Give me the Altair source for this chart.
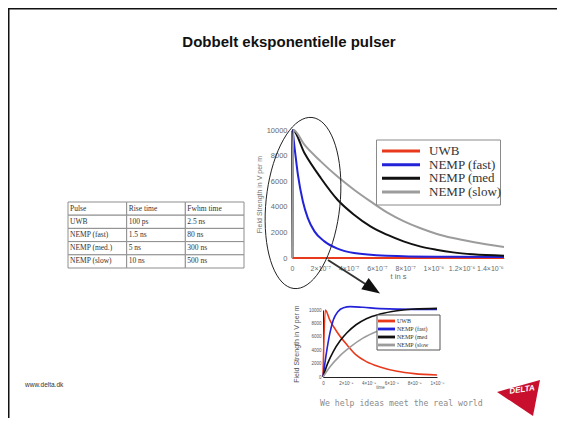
import json
import altair as alt
import numpy as np
import pandas as pd

W, H = 549, 410

# ---------------- texts ----------------
TITLE = "Dobbelt eksponentielle pulser"
URL_TEXT = "www.delta.dk"
SLOGAN = "We help ideas meet the real world"
LOGO_TEXT = "DELTA"

series = ["UWB", "NEMP (fast)", "NEMP (med", "NEMP (slow)"]
inset_labels = ["UWB", "NEMP (fast)", "NEMP (med", "NEMP (slow"]
colors = ["#e8391d", "#2222d8", "#111111", "#9c9c9c"]

# ---------------- table ----------------
table_header = ["Pulse", "Rise time", "Fwhm time"]
table_pulse = ["UWB", "NEMP (fast)", "NEMP (med.)", "NEMP (slow)"]
table_rise = ["100 ps", "1.5 ns", "5 ns", "10 ns"]
table_fwhm = ["2.5 ns", "80 ns", "300 ns", "500 ns"]

# ---------------- main chart (t in s, V/m) ----------------
uwb_t = [0, 5e-10, 5e-9, 1.5e-6]
uwb_v = [0, 10000, 0, 0]
fast_t = [0, 1.5e-9, 1.87e-8, 4.2e-8, 7.7e-8, 1.12e-7, 1.59e-7, 2.29e-7, 3.22e-7, 4.39e-7, 6.72e-7, 1.02e-6, 1.5e-6]
fast_v = [0, 10000, 8570, 6490, 4420, 3120, 2080, 1300, 730, 390, 180, 100, 80]
med_t = [0, 5e-9, 8.9e-8, 2.05e-7, 3.22e-7, 4.39e-7, 5.55e-7, 6.72e-7, 7.89e-7, 9.05e-7, 1.02e-6, 1.14e-6, 1.28e-6, 1.5e-6]
med_v = [0, 10000, 8180, 6230, 4550, 3380, 2470, 1820, 1300, 910, 650, 440, 290, 180]
slow_t = [0, 1e-8, 8.9e-8, 2.05e-7, 3.22e-7, 4.39e-7, 5.55e-7, 6.72e-7, 7.89e-7, 9.05e-7, 1.02e-6, 1.14e-6, 1.28e-6, 1.5e-6]
slow_v = [0, 10000, 8830, 7530, 6360, 5330, 4420, 3560, 2880, 2340, 1900, 1560, 1250, 860]

main_xticks = [0, 2e-7, 4e-7, 6e-7, 8e-7, 1e-6, 1.2e-6, 1.4e-6]
main_xlabels = ["0", "2×10⁻⁷", "4×10⁻⁷", "6×10⁻⁷", "8×10⁻⁷", "1×10⁻⁶", "1.2×10⁻⁶", "1.4×10⁻⁶"]
yticks = [0, 2000, 4000, 6000, 8000, 10000]

# ---------------- inset chart (first 10 ns) ----------------
i_uwb_t = [0, 2e-10, 6e-10, 1.2e-9, 2.1e-9, 2.9e-9, 3.8e-9, 5e-9, 6.5e-9, 8e-9, 1e-8]
i_uwb_v = [0, 10000, 8500, 6800, 4800, 3300, 2300, 1500, 850, 500, 300]
i_fast_t = [0, 3e-10, 6e-10, 9e-10, 1.3e-9, 1.8e-9, 2.4e-9, 3.5e-9, 5e-9, 8e-9, 1e-8]
i_fast_v = [0, 3600, 6500, 8500, 9750, 10350, 10500, 10400, 10200, 10100, 10100]
i_med_t = [0, 4e-10, 9e-10, 1.5e-9, 2.1e-9, 2.9e-9, 3.8e-9, 5e-9, 6.5e-9, 8e-9, 1e-8]
i_med_v = [0, 2000, 3800, 5400, 6600, 7800, 8700, 9400, 9900, 10150, 10250]
i_slow_t = [0, 6e-10, 1.5e-9, 2.4e-9, 3.5e-9, 5e-9, 6.5e-9, 8e-9, 1e-8]
i_slow_v = [0, 1500, 3200, 4500, 5800, 7000, 7900, 8500, 9100]

inset_xticks = [0, 2e-9, 4e-9, 6e-9, 8e-9, 1e-8]
inset_xlabels = ["0", "2×10⁻⁹", "4×10⁻⁹", "6×10⁻⁹", "8×10⁻⁹", "1×10⁻⁸"]


def long_df(ts, vs):
    rows = []
    for name, t, v in zip(series, ts, vs):
        for a, b in zip(t, v):
            rows.append({"series": name, "t": a, "v": b})
    return pd.DataFrame(rows)


main_df = long_df([uwb_t, fast_t, med_t, slow_t], [uwb_v, fast_v, med_v, slow_v])
inset_df = long_df([i_uwb_t, i_fast_t, i_med_t, i_slow_t], [i_uwb_v, i_fast_v, i_med_v, i_slow_v])

color_enc = alt.Color("series:N", scale=alt.Scale(domain=series, range=colors), legend=None)
one = pd.DataFrame({"a": [0]})
SANS = "Liberation Sans"
SERIF = "Liberation Serif"

# ---------------- slide frame ----------------
frame_top = alt.Chart(one).mark_rule(color="#111", strokeWidth=3).encode(
    x=alt.value(-2), x2=alt.value(W + 10), y=alt.value(0))
frame_left = alt.Chart(one).mark_rule(color="#111", strokeWidth=3).encode(
    x=alt.value(0), y=alt.value(-2), y2=alt.value(H + 10))

title = alt.Chart(pd.DataFrame({"t": [TITLE]})).mark_text(
    font=SANS, fontSize=15, fontWeight="bold", color="#111", align="center", baseline="alphabetic"
).encode(x=alt.value(281), y=alt.value(39), text="t:N")

# ---------------- table ----------------
cols = ["c0", "c1", "c2"]
rows_ = ["r0", "r1", "r2", "r3", "r4"]
cells = []
for j, h in enumerate(table_header):
    cells.append({"col": cols[j], "row": "r0", "txt": h})
for i in range(4):
    for j, src in enumerate([table_pulse, table_rise, table_fwhm]):
        cells.append({"col": cols[j], "row": rows_[i + 1], "txt": src[i]})
cells_df = pd.DataFrame(cells)
tx_scale = alt.Scale(type="band", domain=cols, range=[60, 236], paddingInner=0, paddingOuter=0)
ty_scale = alt.Scale(type="band", domain=rows_, range=[194, 260], paddingInner=0, paddingOuter=0)
table_rect = alt.Chart(cells_df).mark_rect(fill="white", stroke="#8e8e8e", strokeWidth=1).encode(
    x=alt.X("col:N", scale=tx_scale, axis=None),
    y=alt.Y("row:N", scale=ty_scale, axis=None),
)
table_text = alt.Chart(cells_df).mark_text(
    font=SERIF, fontSize=7.5, color="#333", align="left", baseline="middle", dx=2
).encode(
    x=alt.X("col:N", scale=tx_scale, axis=None, bandPosition=0),
    y=alt.Y("row:N", scale=ty_scale, axis=None, bandPosition=0.5),
    text="txt:N",
)

# ---------------- main chart ----------------
main_x_expr = json.dumps(main_xlabels, ensure_ascii=False) + "[round(datum.value/2e-7)]"
main_lines = alt.Chart(main_df).mark_line(strokeWidth=2, interpolate="monotone").encode(
    x=alt.X("t:Q", scale=alt.Scale(domain=[0, 1.5e-6], range=[284, 496], nice=False, zero=False),
            axis=alt.Axis(orient="bottom", offset=-160, values=main_xticks, labelExpr=main_x_expr,
                          labelOverlap=False, labelFlush=False, ticks=False, tickSize=0, labelPadding=6,
                          labelFont=SANS, labelFontSize=7, labelColor="#6a6a6a", domainColor="#999",
                          grid=False, title="t in s", titleFont=SANS, titleFontSize=7.5,
                          titleFontWeight="normal", titleColor="#6a6a6a", titlePadding=1)),
    y=alt.Y("v:Q", scale=alt.Scale(domain=[0, 10000], range=[250, 122], nice=False),
            axis=alt.Axis(orient="left", offset=-284, values=yticks, format="d",
                          labelOverlap=False, labelFlush=False, ticks=False, tickSize=0, labelPadding=5,
                          labelFont=SANS, labelFontSize=7.5, labelColor="#6a6a6a", domainColor="#8c8c8c",
                          domainWidth=1.5, grid=False, title="Field Strength in V per m", titleFont=SANS,
                          titleFontSize=7, titleFontWeight="normal", titleColor="#777", titlePadding=4)),
    color=color_enc,
)

leg_df = pd.DataFrame({"series": series, "label": series})
main_leg_box = alt.Chart(one).mark_rect(fill="white", stroke="#8a8a8a", strokeWidth=1).encode(
    x=alt.value(368.5), x2=alt.value(492.5), y=alt.value(132), y2=alt.value(197))
main_leg_y = alt.Y("series:N", scale=alt.Scale(type="point", domain=series, range=[143, 184], padding=0), axis=None)
main_leg_lines = alt.Chart(leg_df).mark_rule(strokeWidth=3).encode(
    x=alt.value(374), x2=alt.value(412), y=main_leg_y, color=color_enc)
main_leg_text = alt.Chart(leg_df).mark_text(
    font=SERIF, fontSize=13, color="#333", align="left", baseline="middle"
).encode(x=alt.value(421), y=main_leg_y, text="label:N")

# ellipse + arrow (annotations)
phi = np.deg2rad(6)
th = np.linspace(0, 2 * np.pi, 73)
ex, ey = (37 / 86) * np.cos(th), np.sin(th)
rx, ry = ex * np.cos(phi) - ey * np.sin(phi), ex * np.sin(phi) + ey * np.cos(phi)
ellipse_path = "M" + " L".join(f"{a:.4f} {b:.4f}" for a, b in zip(rx, ry)) + " Z"
ellipse = alt.Chart(one).mark_point(shape=ellipse_path, size=(2 * 86) ** 2, filled=False,
                                    stroke="#222", strokeWidth=1, opacity=1).encode(
    x=alt.value(295), y=alt.value(195))
arrow_line = alt.Chart(one).mark_rule(color="#333", strokeWidth=2).encode(
    x=alt.value(320), y=alt.value(252), x2=alt.value(362), y2=alt.value(279))
arrow_head = alt.Chart(one).mark_point(shape="M 1 0 L -1 -0.75 L -1 0.75 Z", size=324, filled=True,
                                       fill="#111", strokeWidth=0, opacity=1, angle=33).encode(
    x=alt.value(364.5), y=alt.value(280.5))

# ---------------- inset chart ----------------
inset_x_expr = json.dumps(inset_xlabels, ensure_ascii=False) + "[round(datum.value/2e-9)]"
inset_lines = alt.Chart(inset_df).mark_line(strokeWidth=1.6, interpolate="monotone").encode(
    x=alt.X("t:Q", scale=alt.Scale(domain=[0, 1e-8], range=[315, 429], nice=False, zero=False),
            axis=alt.Axis(orient="bottom", offset=-41, values=inset_xticks, labelExpr=inset_x_expr,
                          labelOverlap=False, labelFlush=False, ticks=False, tickSize=0, labelPadding=3,
                          labelFont=SANS, labelFontSize=4.5, labelColor="#555", domainColor="#222",
                          grid=False, title="time", titleFont=SANS, titleFontSize=4.5,
                          titleFontWeight="normal", titleColor="#555", titlePadding=0)),
    y=alt.Y("v:Q", scale=alt.Scale(domain=[0, 10000], range=[369, 302], nice=False),
            axis=alt.Axis(orient="left", offset=-315, values=yticks, format="d",
                          labelOverlap=False, labelFlush=False, ticks=False, tickSize=0, labelPadding=2,
                          labelFont=SANS, labelFontSize=4.5, labelColor="#555", domainColor="#222",
                          grid=False, title="Field Strength in V per m", titleFont=SANS,
                          titleFontSize=7, titleFontWeight="normal", titleColor="#555", titlePadding=9)),
    color=color_enc,
)

ileg_df = pd.DataFrame({"series": series, "label": inset_labels})
inset_leg_box = alt.Chart(one).mark_rect(fill="white", stroke="#555", strokeWidth=1).encode(
    x=alt.value(369), x2=alt.value(432), y=alt.value(307), y2=alt.value(342))
inset_leg_y = alt.Y("series:N", scale=alt.Scale(type="point", domain=series, range=[313, 337], padding=0), axis=None)
inset_leg_lines = alt.Chart(ileg_df).mark_rule(strokeWidth=2.8).encode(
    x=alt.value(370), x2=alt.value(387), y=inset_leg_y, color=color_enc)
inset_leg_text = alt.Chart(ileg_df).mark_text(
    font=SERIF, fontSize=6, color="#333", align="left", baseline="middle"
).encode(x=alt.value(389), y=inset_leg_y, text="label:N")

# ---------------- footer ----------------
url = alt.Chart(pd.DataFrame({"t": [URL_TEXT]})).mark_text(
    font=SANS, fontSize=6.5, color="#333", align="left", baseline="middle"
).encode(x=alt.value(17), y=alt.value(377), text="t:N")
slogan = alt.Chart(pd.DataFrame({"t": [SLOGAN]})).mark_text(
    font="DejaVu Sans Mono", fontSize=8.2, color="#8a8a8a", align="left", baseline="middle"
).encode(x=alt.value(312), y=alt.value(396), text="t:N")

logo_pts = [(489, 384), (532, 372), (525, 408)]
cx, cy, u = 512, 388, 22
logo_path = "M" + " L".join(f"{(a - cx) / u:.3f} {(b - cy) / u:.3f}" for a, b in logo_pts) + " Z"
logo = alt.Chart(one).mark_point(shape=logo_path, size=(2 * u) ** 2, filled=True, fill="#c8102e",
                                 strokeWidth=0, opacity=1).encode(x=alt.value(cx), y=alt.value(cy))
logo_text = alt.Chart(pd.DataFrame({"t": [LOGO_TEXT]})).mark_text(
    font=SANS, fontSize=8, fontWeight="bold", fontStyle="italic", color="white",
    align="center", baseline="middle", angle=352
).encode(x=alt.value(514), y=alt.value(382), text="t:N")

chart = alt.layer(
    frame_top, frame_left, title, table_rect, table_text,
    main_lines, main_leg_box, main_leg_lines, main_leg_text, ellipse, arrow_line, arrow_head,
    inset_lines, inset_leg_box, inset_leg_lines, inset_leg_text,
    url, slogan, logo, logo_text,
).resolve_scale(x="independent", y="independent").properties(
    width=W, height=H, autosize=alt.AutoSizeParams(type="none"), padding=0
).configure_view(strokeWidth=0).configure(background="white")

chart.save("out.html", embed_options={"renderer": "svg", "actions": False})
